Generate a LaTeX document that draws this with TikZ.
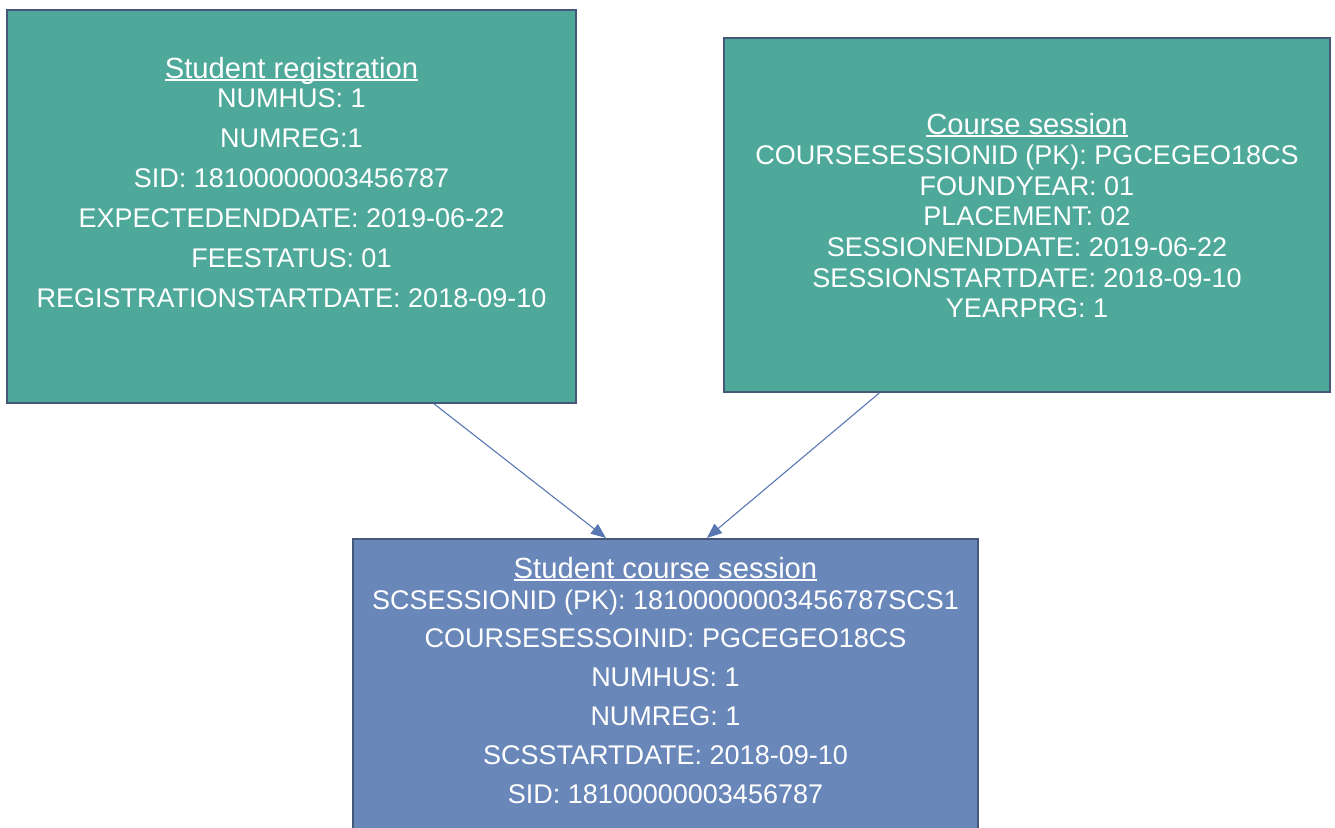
\documentclass[tikz,border=0pt]{standalone}
\usepackage{fontspec}
\setmainfont{Liberation Sans}
\usetikzlibrary{calc,arrows.meta}
\definecolor{tealfill}{HTML}{4EA99A}
\definecolor{bluefill}{HTML}{6A87B9}
\definecolor{boxline}{HTML}{46587A}
\definecolor{linkblue}{HTML}{5878B4}
\newcommand{\uhead}[1]{\setbox0\hbox{#1}\rlap{\rule[-2.6pt]{\wd0}{1.4pt}}\box0}
\tikzset{
  entity/.style={draw=boxline, line width=2pt, inner sep=0pt},
  field/.style={text=white, inner sep=0pt, anchor=base, font=\fontsize{27}{30}\selectfont},
  heading/.style={field, font=\fontsize{29.2}{32}\selectfont},
  link/.style={draw=linkblue, line width=1.1pt, -{Triangle[length=15pt,width=12pt]}}
}

\begin{document}
\begin{tikzpicture}[x=1pt, y=-1pt]
		%%%%% START %%%%%
		\clip (0,0) rectangle (1335,827);
		
		\node[entity, fill=tealfill, minimum width=569, minimum height=393] (reg) at (291.5,206.5) {};
		\node[entity, fill=tealfill, minimum width=606, minimum height=354] (cs) at (1027,215) {};
		\node[entity, fill=bluefill, minimum width=625, minimum height=320] (scs) at (665.5,699) {};
		
		% student registration
		\node[heading] (regtitle) at (291.5,78) {\uhead{Student registration}};
		\foreach \t [count=\i] in {{NUMHUS: 1},{NUMREG:1},{SID: 18100000003456787},{EXPECTEDENDDATE: 2019-06-22},{FEESTATUS: 01},{REGISTRATIONSTARTDATE: 2018-09-10}}
			\node[field] (reg\i) at (291.5,67+40*\i) {\t};
		
		% course session
		\node[heading] (cstitle) at (1027,134) {\uhead{Course session}};
		\foreach \t [count=\i] in {{COURSESESSIONID (PK): PGCEGEO18CS},{FOUNDYEAR: 01},{PLACEMENT: 02},{SESSIONENDDATE: 2019-06-22},{SESSIONSTARTDATE: 2018-09-10},{YEARPRG: 1}}
			\node[field] (cs\i) at (1027,134+30.6*\i) {\t};
		
		% student course session
		\node[heading] (scstitle) at (665.5,578) {\uhead{Student course session}};
		\foreach \t [count=\i] in {{SCSESSIONID (PK): 18100000003456787SCS1},{COURSESESSOINID: PGCEGEO18CS},{NUMHUS: 1},{NUMREG: 1},{SCSSTARTDATE: 2018-09-10},{SID: 18100000003456787}}
			\node[field] (scs\i) at (665.5,570.2+38.8*\i) {\t};
		
		\draw[link] ($(reg.south west)!0.75!(reg.south east)$) -- ($(scs.north west)!0.405!(scs.north east)$);
		\draw[link] ($(cs.south west)!0.257!(cs.south east)$) -- ($(scs.north west)!0.566!(scs.north east)$);
		%%%%% END %%%%%
\end{tikzpicture}
\end{document}
